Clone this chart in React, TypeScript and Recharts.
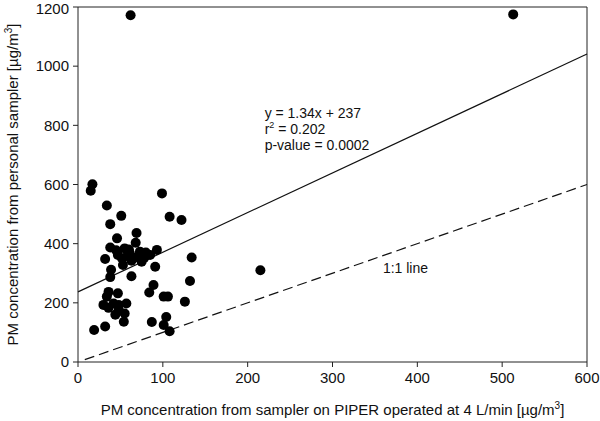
import React from 'react';
import {
  ScatterChart,
  Scatter,
  XAxis,
  YAxis,
  ReferenceLine,
  ReferenceDot,
} from 'recharts';

// PIPER sampler (x) vs personal sampler (y), µg/m³
const piperValues = [
  17, 15, 34, 99, 51, 108, 122, 38, 69, 46, 68, 38, 55, 93, 61, 73, 85, 47, 80, 52,
  65, 75, 53, 32, 134, 39, 91, 38, 63, 132, 89, 36, 47, 84, 34, 101, 106, 126, 30, 42,
  48, 57, 36, 44, 55, 48, 54, 87, 104, 101, 108, 32, 19, 215, 62, 513, 58, 70, 63, 78,
  45, 60,
];
const personalValues = [
  601, 579, 529, 570, 494, 491, 480, 466, 436, 418, 403, 387, 384, 379, 368, 373, 362, 362, 370, 350,
  350, 339, 328, 348, 353, 312, 322, 287, 290, 274, 260, 237, 232, 235, 221, 221, 221, 204, 193, 198,
  193, 198, 183, 160, 164, 176, 136, 135, 152, 125, 104, 120, 108, 310, 1172, 1175, 358, 356, 342, 352,
  378, 380,
];

const xTicks = [0, 100, 200, 300, 400, 500, 600];
const yTicks = [0, 200, 400, 600, 800, 1000, 1200];

const fitSlope = 1.34;
const fitIntercept = 237;
const fitLines = ['y = 1.34x + 237', 'r2 = 0.202', 'p-value = 0.0002'];

const points = piperValues.map((x, i) => ({ x, y: personalValues[i] }));

const font = 'Arial, "Liberation Sans", sans-serif';

function XTitle(props: any) {
  const { x, y, width } = props.viewBox;
  return (
    <text x={x + width / 2} y={y + 53} textAnchor="middle" fontSize={15} fill="#111" fontFamily={font}>
      PM concentration from sampler on PIPER operated at 4 L/min [µg/m
      <tspan dy={-6} fontSize={10}>3</tspan>
      <tspan dy={6}>]</tspan>
    </text>
  );
}

function YTitle(props: any) {
  const { y, height } = props.viewBox;
  const cx = 18;
  const cy = y + height / 2;
  return (
    <text
      x={cx}
      y={cy}
      transform={`rotate(-90, ${cx}, ${cy})`}
      textAnchor="middle"
      fontSize={15}
      fill="#111"
      fontFamily={font}
    >
      PM concentration from personal sampler [µg/m
      <tspan dy={-6} fontSize={10}>3</tspan>
      <tspan dy={6}>]</tspan>
    </text>
  );
}

function FitLabel(props: any) {
  const { x, y } = props.viewBox;
  return (
    <text x={x} y={y} fontSize={14} fill="#111" fontFamily={font}>
      <tspan x={x} dy={5}>{fitLines[0]}</tspan>
      <tspan x={x} dy={16}>r</tspan>
      <tspan dy={-6} fontSize={9}>2</tspan>
      <tspan dy={6}>{fitLines[1].slice(2)}</tspan>
      <tspan x={x} dy={16}>{fitLines[2]}</tspan>
    </text>
  );
}

export default function App() {
  return (
    <div style={{ position: 'fixed', left: 0, top: 0, width: 600, height: 421, background: '#fff' }}>
      <ScatterChart width={600} height={421} margin={{ top: 7, right: 13, bottom: 0, left: 0 }}>
        <XAxis
          type="number"
          dataKey="x"
          domain={[0, 600]}
          ticks={xTicks}
          height={59}
          stroke="#222"
          tick={{ fill: '#111', fontSize: 15, fontFamily: font }}
          tickSize={5}
          tickMargin={5}
          label={(p: any) => <XTitle {...p} />}
        />
        <YAxis
          type="number"
          dataKey="y"
          domain={[0, 1200]}
          ticks={yTicks}
          width={78}
          stroke="#222"
          tick={{ fill: '#111', fontSize: 15, fontFamily: font }}
          tickSize={5}
          tickMargin={4}
          label={(p: any) => <YTitle {...p} />}
        />
        <ReferenceLine y={1200} stroke="#222" />
        <ReferenceLine x={600} stroke="#222" />
        <ReferenceLine
          segment={[
            { x: 0, y: fitIntercept },
            { x: 600, y: fitIntercept + fitSlope * 600 },
          ]}
          stroke="#111"
          strokeWidth={1.2}
        />
        <ReferenceLine
          segment={[
            { x: 8, y: 8 },
            { x: 600, y: 600 },
          ]}
          stroke="#111"
          strokeWidth={1.2}
          strokeDasharray="10 5"
        />
        <Scatter
          data={points}
          fill="#000"
          isAnimationActive={false}
          shape={(p: any) => <circle cx={p.cx} cy={p.cy} r={5} fill="#000" />}
        />
        <ReferenceDot x={220} y={841} r={0} fill="none" stroke="none" label={(p: any) => <FitLabel {...p} />} />
        <ReferenceDot
          x={386}
          y={318}
          r={0}
          fill="none"
          stroke="none"
          label={{ value: '1:1 line', position: 'center', fontSize: 14, fill: '#111', fontFamily: font }}
        />
      </ScatterChart>
    </div>
  );
}
